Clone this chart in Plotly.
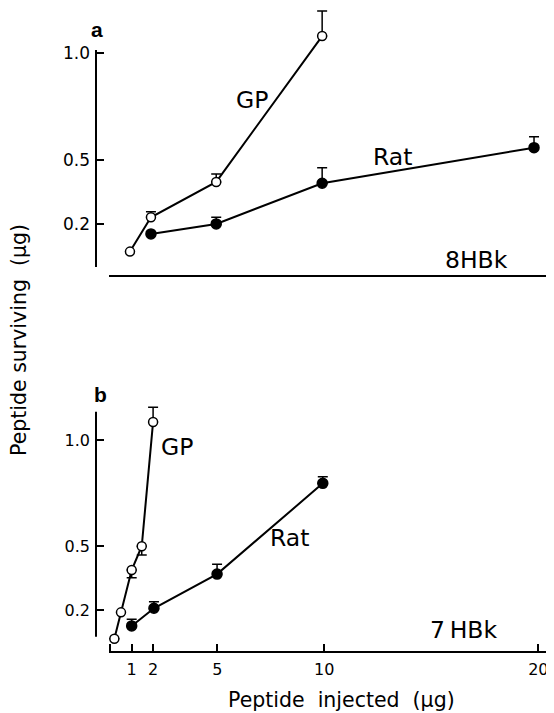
import plotly.graph_objects as go

# ---------------- data ----------------
# panel a (8HBk)
gp_a_x = [0.92, 1.9, 4.95, 9.9]
gp_a_y = [0.069, 0.23, 0.396, 1.081]
gp_a_err = [0.0, 0.026, 0.037, 0.118]

rat_a_x = [1.9, 4.95, 9.9, 19.8]
rat_a_y = [0.152, 0.199, 0.39, 0.557]
rat_a_err = [0.0, 0.031, 0.073, 0.051]

# panel b (7HBk)
gp_b_x = [0.19, 0.5, 1.0, 1.47, 2.0]
gp_b_y = [0.065, 0.189, 0.388, 0.5, 1.085]
gp_b_err_up = [0.0, 0.0, 0.0, 0.0, 0.069]
gp_b_err_down = [0.0, 0.0, 0.036, 0.041, 0.0]

rat_b_x = [1.0, 2.04, 4.99, 9.93]
rat_b_y = [0.125, 0.208, 0.369, 0.796]
rat_b_err = [0.031, 0.031, 0.046, 0.031]

x_tickvals = [0, 1, 2, 5, 10, 20]
x_ticktext = ["", "1", "2", "5", "10", "20"]
y_tickvals = [0.2, 0.5, 1.0]
y_ticktext = ["0.2", "0.5", "1.0"]

# visible extent of the two y axis lines (data units)
ya_line = [-0.0033, 1.0155]
yb_line = [0.0744, 1.1332]

# ---------------- layout geometry ----------------
OFF = 8                      # page body margin
W, H = 546, 705
L, R, T, B = 88, 4, 0, 61
PW = W - L - R
PH = H - T - B


def xp(px):
    return (px - OFF - L) / PW


def yp(py):
    return (H - B - (py - OFF)) / PH


def yrange(py_bot, py_top, zero_px, ppu):
    return [(zero_px - py_bot) / ppu, (zero_px - py_top) / ppu]


FAM = "DejaVu Sans, sans-serif"
TICKFONT_A = dict(family=FAM, size=17, color="black")
TICKFONT_B = dict(family=FAM, size=16, color="black")
LABFONT = dict(family=FAM, size=23.5, color="black")
TITLEFONT = dict(family=FAM, size=20.5, color="black")

fig = go.Figure()


def add_series(x, y, xa, ya, filled, up, down=None):
    err = dict(type="data", array=up, visible=True, color="black",
               thickness=1.5, width=5, symmetric=False,
               arrayminus=down if down is not None else [0.0] * len(up))
    fig.add_trace(go.Scatter(
        x=x, y=y, xaxis=xa, yaxis=ya, mode="lines+markers",
        line=dict(color="black", width=2),
        marker=dict(symbol="circle", size=9 if not filled else 10,
                    color="white" if not filled else "black",
                    line=dict(color="black", width=1.5)),
        error_y=err, showlegend=False, cliponaxis=False,
    ))


add_series(gp_a_x, gp_a_y, "x2", "y2", False, gp_a_err)
add_series(rat_a_x, rat_a_y, "x2", "y2", True, rat_a_err)
add_series(gp_b_x, gp_b_y, "x", "y", False, gp_b_err_up, gp_b_err_down)
add_series(rat_b_x, rat_b_y, "x", "y", True, rat_b_err)

xdom = [xp(109), xp(549)]
xrange_ = [-0.06, 20.5]

ya_dom = [yp(275), yp(9)]
yb_dom = [yp(652), yp(395)]

common_y = dict(anchor="free", position=0, showline=False,
                ticks="inside", ticklen=7, tickwidth=1.5, tickcolor="black",
                tickvals=y_tickvals, ticktext=y_ticktext, ticklabelstandoff=6,
                showgrid=False, zeroline=False)

fig.update_layout(
    width=W, height=H,
    margin=dict(l=L, r=R, t=T, b=B),
    paper_bgcolor="white", plot_bgcolor="white",
    xaxis=dict(domain=xdom, range=xrange_, anchor="free", position=0,
               showline=True, linecolor="black", linewidth=2,
               ticks="inside", ticklen=7, tickwidth=1.5, tickcolor="black",
               tickvals=x_tickvals, ticktext=x_ticktext, tickfont=TICKFONT_B,
               ticklabelstandoff=3,
               showgrid=False, zeroline=False),
    xaxis2=dict(domain=xdom, range=xrange_, anchor="free", position=yp(276),
                showline=True, linecolor="black", linewidth=2,
                showticklabels=False, ticks="", showgrid=False, zeroline=False),
    yaxis=dict(domain=yb_dom, range=yrange(652, 395, 652.5, 212.5),
               tickfont=TICKFONT_B, **common_y),
    yaxis2=dict(domain=ya_dom, range=yrange(275, 9, 266.3, 213.0),
                tickfont=TICKFONT_A, **common_y),
)

# visible y-axis lines (shorter than the plotting area, as in the figure)
fig.add_shape(type="line", xref="paper", yref="y2", x0=0, x1=0,
              y0=ya_line[0], y1=ya_line[1], line=dict(color="black", width=2))
fig.add_shape(type="line", xref="paper", yref="y", x0=0, x1=0,
              y0=yb_line[0], y1=yb_line[1], line=dict(color="black", width=2))

ann = [
    ("GP", 251.7, 100, LABFONT, 0),
    ("Rat", 392.5, 156.7, LABFONT, 0),
    ("8HBk", 476.5, 260, LABFONT, 0),
    ("GP", 176.7, 446.7, LABFONT, 0),
    ("Rat", 289, 538.3, LABFONT, 0),
    ("7\u2009HBk", 463.3, 630, LABFONT, 0),
    ("<b>a</b>", 97, 29, dict(family="Liberation Sans, Arial, sans-serif", size=21, color="black"), 0),
    ("<b>b</b>", 100, 394, dict(family="Liberation Sans, Arial, sans-serif", size=21, color="black"), 0),
    ("Peptide\u00a0\u00a0injected\u00a0\u00a0(\u00b5g)", 341, 700, TITLEFONT, 0),
    ("Peptide surviving\u00a0\u00a0(\u00b5g)", 19, 340, TITLEFONT, -90),
]
for text, px, py, font, ang in ann:
    fig.add_annotation(text=text, x=xp(px), y=yp(py), xref="paper", yref="paper",
                       xanchor="center", yanchor="middle", showarrow=False,
                       font=font, textangle=ang)

fig.write_html("out.html")
